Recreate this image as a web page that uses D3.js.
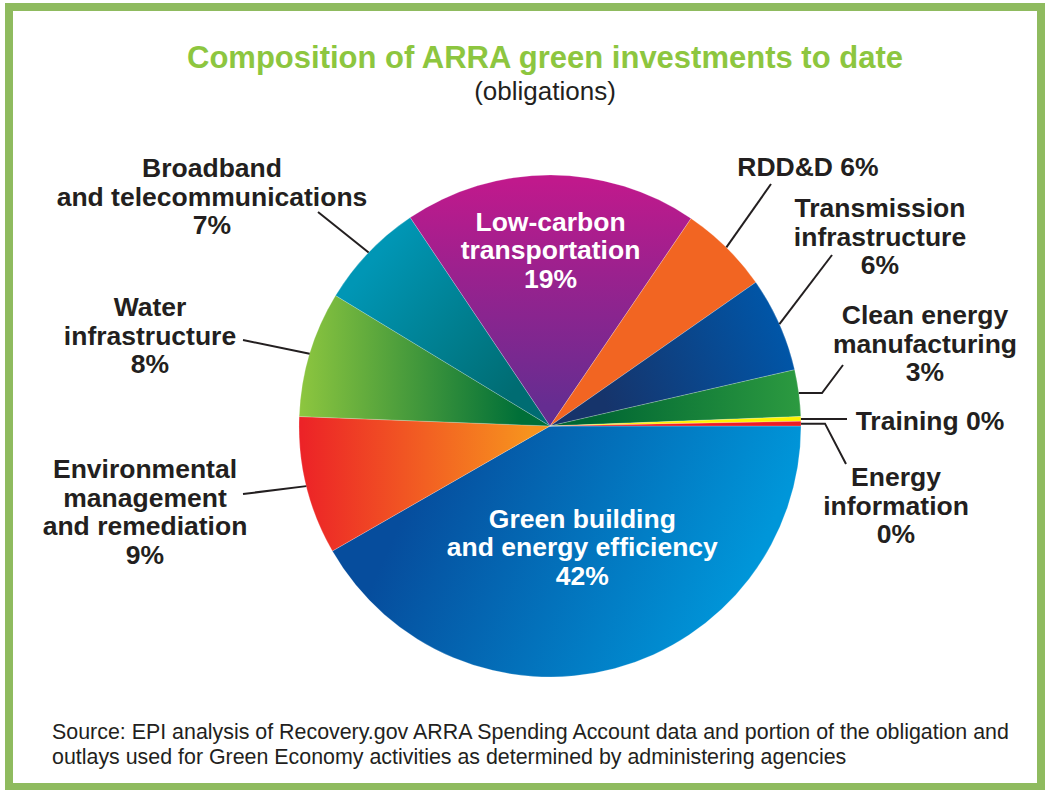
<!DOCTYPE html>
<html><head><meta charset="utf-8">
<script src="https://cdn.jsdelivr.net/npm/d3@7"></script>
<style>body{margin:0;background:#fff} svg{display:block}</style>
</head><body>
<svg id="chart" width="1045" height="790"></svg>
<script>
// ---------- DATA ----------
const categories = [
  "Green building and energy efficiency",
  "Environmental management and remediation",
  "Water infrastructure",
  "Broadband and telecommunications",
  "Low-carbon transportation",
  "RDD&D",
  "Transmission infrastructure",
  "Clean energy manufacturing",
  "Training",
  "Energy information"
];
const values = [41.7, 8.9, 8.1, 6.9, 18.9, 5.8, 6.1, 3.0, 0.3, 0.3];
const percentLabels = ["42%", "9%", "8%", "7%", "19%", "6%", "6%", "3%", "0%", "0%"];
const labelNames = [
  ["Green building", "and energy efficiency"],
  ["Environmental", "management", "and remediation"],
  ["Water", "infrastructure"],
  ["Broadband", "and telecommunications"],
  ["Low-carbon", "transportation"],
  ["RDD&D"],
  ["Transmission", "infrastructure"],
  ["Clean energy", "manufacturing"],
  ["Training"],
  ["Energy", "information"]
];
const titleText = "Composition of ARRA green investments to date";
const subtitleText = "(obligations)";
const sourceLines = [
  "Source: EPI analysis of Recovery.gov ARRA Spending Account data and portion of the obligation and",
  "outlays used for Green Economy activities as determined by administering agencies"
];

// ---------- STYLE / LAYOUT ----------
const font = "'Liberation Sans', Arial, Helvetica, sans-serif";
const cx = 550, cy = 426, R = 251;
const sliceStyles = [
  {grad: [[-120, 30, "#064d9d"], [190, 170, "#0096d9"]]},
  {grad: [[-250, 0, "#ec2227"], [-20, 0, "#f7931e"]]},
  {grad: [[-250, 0, "#8dc63f"], [-30, 0, "#006f38"]]},
  {grad: [[-190, -150, "#0096b5"], [-40, -30, "#006c72"]]},
  {grad: [[0, -245, "#c0198c"], [0, -20, "#652d91"]]},
  {grad: [[0, -240, "#f26522"], [0, 0, "#f26522"]]},
  {grad: [[240, -80, "#0056a8"], [60, -10, "#16346b"]]},
  {grad: [[250, 0, "#2c9a40"], [40, 0, "#006633"]]},
  {grad: [[0, 0, "#fff200"], [250, 0, "#fff200"]]},
  {grad: [[0, 0, "#ed1c24"], [250, 0, "#ed1c24"]]}
];
// inside labels: radius factor; outside labels: text centre x, first baseline y, leader path points
const labelLayout = [
  {inside: 0.5},
  {x: 145, y: 478, lead: [[243, 494]]},
  {x: 150, y: 316, lead: [[243, 340]]},
  {x: 212, y: 177, lead: [[318, 212]]},
  {inside: 0.70},
  {x: 808, y: 176, inline: true, lead: [[771, 184]]},
  {x: 880, y: 217, lead: [[832, 255]]},
  {x: 925, y: 324, lead: [[822, null], [843, 365]]},
  {x: 930, y: 430, inline: true, lead: [[847, null]]},
  {x: 896, y: 486, lead: [[825, null], [846, 464]]}
];
const lineH = 28.7;
const labelSize = 26.5;

// ---------- DRAW ----------
const svg = d3.select("#chart");
const defs = svg.append("defs");

// frame
svg.append("rect").attr("x", 9).attr("y", 7).attr("width", 1032).attr("height", 780)
  .attr("fill", "none").attr("stroke", "#8fbb5f").attr("stroke-width", 8);

// title
svg.append("text").attr("x", 545).attr("y", 68).attr("text-anchor", "middle")
  .attr("font-family", font).attr("font-weight", "bold").attr("font-size", 31)
  .attr("fill", "#8dc63f").text(titleText);
svg.append("text").attr("x", 545).attr("y", 100).attr("text-anchor", "middle")
  .attr("font-family", font).attr("font-size", 26).attr("fill", "#231f20").text(subtitleText);

const data = categories.map((c, i) => ({name: c, value: values[i], i}));
const pie = d3.pie().sort(null).value(d => d.value)
  .startAngle(Math.PI / 2).endAngle(Math.PI / 2 + 2 * Math.PI);
const arcs = pie(data);
const arc = d3.arc().innerRadius(0).outerRadius(R);
const edgeArc = d3.arc().innerRadius(R).outerRadius(R);

sliceStyles.forEach((s, i) => {
  const g = defs.append("linearGradient").attr("id", "g" + i)
    .attr("gradientUnits", "userSpaceOnUse")
    .attr("x1", s.grad[0][0]).attr("y1", s.grad[0][1])
    .attr("x2", s.grad[1][0]).attr("y2", s.grad[1][1]);
  g.append("stop").attr("offset", 0).attr("stop-color", s.grad[0][2]);
  g.append("stop").attr("offset", 1).attr("stop-color", s.grad[1][2]);
});

const pg = svg.append("g").attr("transform", `translate(${cx},${cy})`);
pg.selectAll("path.slice").data(arcs).join("path").attr("class", "slice")
  .attr("d", arc).attr("fill", d => `url(#g${d.data.i})`)
  .attr("stroke", "rgba(255,255,255,0.35)").attr("stroke-width", 0.6);

// labels
arcs.forEach((a, i) => {
  const L = labelLayout[i];
  const lines = L.inline ? [labelNames[i].join(" ") + " " + percentLabels[i]]
                         : labelNames[i].concat([percentLabels[i]]);
  let x, y0, fill;
  if (L.inside) {
    const mid = (a.startAngle + a.endAngle) / 2;
    const rr = R * L.inside;
    x = cx + rr * Math.sin(mid);
    const yc = cy - rr * Math.cos(mid);
    y0 = yc - (lines.length - 1) * lineH / 2 + 9;
    fill = "#ffffff";
  } else {
    x = L.x; y0 = L.y; fill = "#231f20";
    const [ex, ey] = edgeArc.centroid(a);
    const sx = cx + ex, sy = cy + ey;
    const pts = [[sx, sy]].concat(L.lead.map(p => [p[0], p[1] === null ? sy : p[1]]));
    svg.append("path").attr("d", d3.line()(pts)).attr("fill", "none")
      .attr("stroke", "#231f20").attr("stroke-width", 2);
  }
  const t = svg.append("text").attr("text-anchor", "middle")
    .attr("font-family", font).attr("font-weight", "bold").attr("font-size", labelSize)
    .attr("fill", fill);
  lines.forEach((ln, k) => t.append("tspan").attr("x", x).attr("y", y0 + k * lineH).text(ln));
});

// source
const st = svg.append("text").attr("font-family", font).attr("font-size", 21.4).attr("fill", "#231f20");
sourceLines.forEach((ln, k) => st.append("tspan").attr("x", 52).attr("y", 739 + k * 25).text(ln));
</script>
</body></html>
